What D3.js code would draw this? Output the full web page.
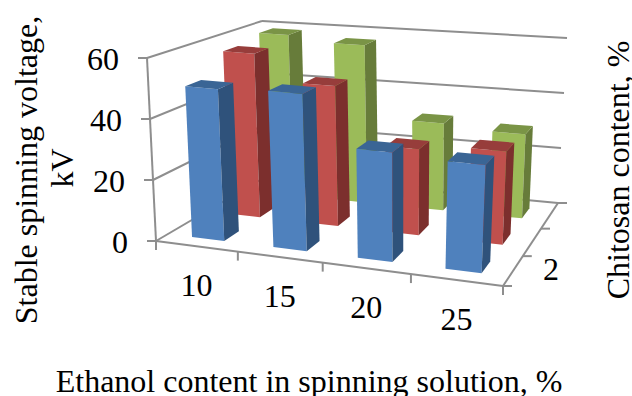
<!DOCTYPE html>
<html><head><meta charset="utf-8">
<script src="https://cdn.jsdelivr.net/npm/d3@7"></script>
<style>html,body{margin:0;background:#fff}svg{display:block}text{font-family:"Liberation Serif",serif;fill:#000}</style>
</head><body><svg id="c" width="632" height="396"></svg>
<script>
const categories = ["10","15","20","25"];
const seriesNames = ["2","3","4"];
const blueValues = [50,51,35,34];
const redValues = [57,48,29,31];
const greenValues = [59,57,31,29.5];
const valueTicks = [0,20,40,60];
const seriesValues = [blueValues,redValues,greenValues];
const palette = [
 {front:"#4F81BD",side:"#2F527B",top:"#3A6595"},
 {front:"#C0504D",side:"#7C2F2D",top:"#973D3B"},
 {front:"#9BBB59",side:"#677C3A",top:"#7A9446"}];

// Perspective box: corners of the floor and ceiling of the chart's cube
const floorCorners = [[156,241],[503,286],[558,203],[267,176]];
const ceilCorners = [[147,58],[513,91],[567,38],[262,21]];
function homography(p){
  const [[x0,y0],[x1,y1],[x2,y2],[x3,y3]]=p;
  const dx1=x1-x2,dx2=x3-x2,dx3=x0-x1+x2-x3,dy1=y1-y2,dy2=y3-y2,dy3=y0-y1+y2-y3;
  const d=dx1*dy2-dx2*dy1,g=(dx3*dy2-dx2*dy3)/d,h=(dx1*dy3-dx3*dy1)/d;
  const a=x1-x0+g*x1,b=x3-x0+h*x3,c=x0,e=y1-y0+g*y1,f=y3-y0+h*y3,k=y0;
  return (u,v)=>{const w=g*u+h*v+1;return [(a*u+b*v+c)/w,(e*u+f*v+k)/w];};
}
const floorH=homography(floorCorners),ceilH=homography(ceilCorners);
const bilinear=(p,u,v)=>[0,1].map(i=>(1-u)*(1-v)*p[0][i]+u*(1-v)*p[1][i]+u*v*p[2][i]+(1-u)*v*p[3][i]);
const mix=(a,b,s)=>[a[0]+(b[0]-a[0])*s,a[1]+(b[1]-a[1])*s];
const plane=(corners,H,u,v)=>mix(bilinear(corners,u,v),H(u,v),0.5);
const project=(u,v,t)=>mix(plane(floorCorners,floorH,u,v),plane(ceilCorners,ceilH,u,v),t);

const xBand=d3.scaleBand().domain(categories).range([0,1]).paddingInner(0.6).paddingOuter(0.3);
const zBand=d3.scaleBand().domain(seriesNames).range([0,1]).paddingInner(0.6).paddingOuter(0.3);
const yScale=d3.scaleLinear().domain([0,60]).range([0,1]);
const xStep=d3.scaleBand().domain(categories).range([0,1]);
const zStep=d3.scaleBand().domain(seriesNames).range([0,1]);

const svg=d3.select("#c");
const line=(a,b,w=2)=>svg.append("line").attr("x1",a[0]).attr("y1",a[1]).attr("x2",b[0]).attr("y2",b[1]).attr("stroke","#8E8E8E").attr("stroke-width",w);

valueTicks.forEach(t=>{
  const h=yScale(t);
  line(project(0,0,h),project(0,1,h));
  line(project(0,1,h),project(1,1,h));
  const p=project(0,0,h);
  line(p,[p[0]-9,p[1]]);
});
line(project(0,0,0),project(0,0,1));
line(project(0,0,0),project(1,0,0));
line(project(1,0,0),project(1,1,0));
categories.concat(["end"]).forEach((c,i)=>{const p=project(i/4,0,0);line(p,[p[0],p[1]+9]);});
seriesNames.concat(["end"]).forEach((c,i)=>{const p=project(1,i/3,0);line(p,[p[0]+9,p[1]]);});

const bars=[];
seriesNames.forEach((s,j)=>categories.forEach((c,i)=>bars.push({s,c,j,v:seriesValues[j][i]})));
bars.sort((a,b)=>b.j-a.j);
const pts=(list)=>list.map(p=>p.join(",")).join(" ");
const g=svg.selectAll("g.bar").data(bars).join("g").attr("class","bar");
const geom=d=>{const u0=xBand(d.c),u1=u0+xBand.bandwidth(),v0=zBand(d.s),v1=v0+zBand.bandwidth(),t=yScale(d.v);return {u0,u1,v0,v1,t};};
g.append("polygon").attr("fill",d=>palette[d.j].front).attr("points",d=>{const q=geom(d);
  return pts([project(q.u0,q.v0,0),project(q.u1,q.v0,0),project(q.u1,q.v0,q.t),project(q.u0,q.v0,q.t)]);});
g.append("polygon").attr("fill",d=>palette[d.j].side).attr("points",d=>{const q=geom(d);
  return pts([project(q.u1,q.v0,0),project(q.u1,q.v1,0),project(q.u1,q.v1,q.t),project(q.u1,q.v0,q.t)]);});
g.append("polygon").attr("fill",d=>palette[d.j].top).attr("points",d=>{const q=geom(d);
  return pts([project(q.u0,q.v0,q.t),project(q.u1,q.v0,q.t),project(q.u1,q.v1,q.t),project(q.u0,q.v1,q.t)]);});

const FS=32;
const text=(s,x,y,anchor="middle",rot=0)=>svg.append("text").text(s).attr("font-size",FS).attr("text-anchor",anchor)
  .attr("transform",`translate(${x},${y}) rotate(${rot})`);
valueTicks.forEach(t=>{const p=project(0,0,yScale(t));text(String(t),p[0]-28,p[1]+12,"end");});
categories.forEach(c=>{const p=project(xStep(c)+xStep.bandwidth()/2,0,0);text(c,p[0],p[1]+50);});
const lab=project(1,zStep("2")+zStep.bandwidth()/2,0);
text("2",lab[0]+38,lab[1]+9);
text("Ethanol content in spinning solution, %",309,392);
text("Stable spinning voltage,",37,170,"middle",-90);
text("kV",73,168,"middle",-90);
text("Chitosan content, %",629,170,"middle",-90);
</script></body></html>
